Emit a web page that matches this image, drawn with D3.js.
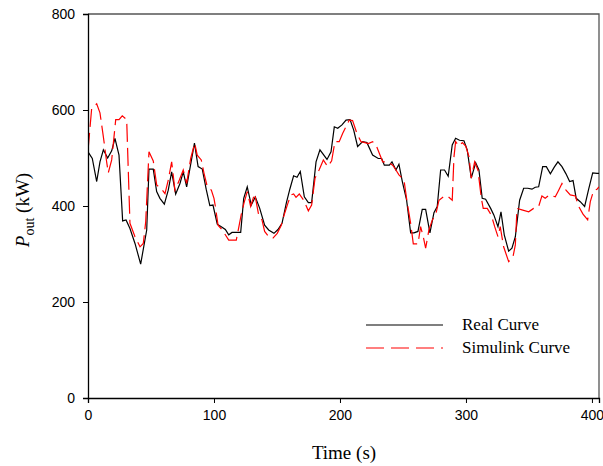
<!DOCTYPE html>
<html lang="en">
<head>
<meta charset="UTF-8">
<title>Pout</title>
<script src="https://cdn.jsdelivr.net/npm/d3@7"></script>
<style>
  body { margin: 0; background: #fff; }
  svg { display: block; }
  .tick text { font-family: 'Liberation Sans', Arial, sans-serif; font-size: 14px; fill: #000; }
  .serif { font-family: 'Liberation Serif', 'Times New Roman', serif; fill: #000; }
</style>
</head>
<body>
<div id="chart"></div>
<script>
// real curve
const realT = [0, 3.4, 6.9, 9.5, 12.2, 15.6, 18.8, 21.4, 24.6, 27.5,
  30.2, 33.3, 37.3, 41.8, 46.6, 48.4, 51.8, 54.5, 57.1, 60.6,
  63.7, 66.4, 69.6, 73, 75.6, 78.3, 84.5, 87.4, 90.7, 93.8,
  96.7, 99.2, 102.6, 105.8, 109, 111.7, 114.3, 121.2, 123.6, 126.4,
  129.6, 132.8, 136.3, 140.2, 143.4, 147.6, 150.8, 154, 157.4, 160.3,
  163.2, 165.9, 168.5, 171.7, 174.9, 177.5, 181, 184.1, 189.7, 192.9,
  195.5, 198.2, 201.6, 204.8, 208, 210.9, 214, 218, 221.4, 225.9,
  230.4, 233.1, 235.2, 239.2, 241.3, 244.4, 246.8, 249.5, 252.9, 256.1,
  258.7, 261.9, 265.3, 268, 271.4, 274.6, 277.2, 279.9, 283, 285.9,
  289.1, 291.8, 294.9, 298.4, 301, 304.2, 307.7, 310.3, 312.9, 315.6,
  319.6, 322.2, 325.4, 327.8, 330.4, 333.9, 336.5, 339.2, 342.6, 345.8,
  349, 352.4, 355, 357.7, 360.9, 363.8, 367, 370.1, 373, 376.2,
  379.4, 382.3, 385, 387.5, 390.7, 394.2, 397.4, 400.6, 404, 405.6]
const realP = [513, 499, 451, 492, 517, 500, 515, 541, 506, 369,
  371, 353, 322, 279, 350, 477, 477, 430, 416, 404,
  433, 471, 425, 447, 471, 440, 531, 482, 477, 435,
  401, 402, 362, 357, 351, 340, 345, 345, 416, 440,
  402, 419, 395, 360, 350, 343, 351, 364, 406, 436,
  463, 460, 472, 419, 407, 407, 492, 517, 497, 513,
  565, 562, 569, 579, 580, 558, 524, 534, 532, 506,
  499, 499, 485, 485, 492, 475, 487, 451, 412, 344,
  344, 347, 393, 393, 344, 386, 399, 475, 475, 462,
  527, 541, 537, 536, 517, 458, 490, 475, 416, 414,
  395, 381, 357, 388, 340, 306, 312, 336, 412, 437,
  437, 435, 439, 440, 482, 482, 467, 481, 492, 482,
  467, 451, 453, 416, 409, 399, 435, 469, 468, 468]

// simulink curve
const simT = [0, 2.9, 6.9, 9.5, 12.2, 14.8, 16.1, 18.8, 22, 24.6,
  27.2, 30.7, 33.3, 37.3, 41.3, 43.9, 45.8, 48.4, 51.8, 54.5,
  58.5, 61.1, 63.7, 66.4, 69, 72.5, 75.6, 78.3, 81.5, 84.7,
  86.7, 89.9, 92.1, 94.7, 97.9, 100, 101.1, 103.2, 106.3, 109,
  111.7, 117.7, 121.7, 123.8, 126.4, 129.1, 132.3, 135.5, 138.1, 140.2,
  143.4, 146.8, 150.2, 153.4, 156.1, 158.7, 161.1, 163.2, 165.1, 167.7,
  171.2, 174.9, 177.5, 180.2, 183.6, 186.8, 190.2, 193.4, 196, 199.4,
  202.1, 207.4, 210, 213.5, 216.7, 219.8, 222.5, 225.9, 228.6, 231.2,
  233.9, 237.9, 241.8, 244.4, 246.8, 250.8, 253.4, 256.1, 258.2, 261.9,
  264, 266.1, 268, 270.6, 273.3, 275.9, 278.6, 282, 285.2, 289.1,
  290.5, 291.8, 294.4, 297.1, 299.8, 302.4, 304.2, 306.9, 309.5, 312.2,
  313.7, 316.9, 320.1, 322.8, 325.4, 327.2, 329.9, 333.9, 337.3, 339.2,
  340.5, 344.4, 349.8, 353.7, 357.7, 360.3, 362.9, 366.1, 370.9, 373.6,
  376.2, 379.4, 382.8, 386.8, 389.5, 392.9, 396.6, 398.7, 401.3, 404, 405.6]
const simP = [515, 603, 613, 594, 544, 492, 469, 496, 580, 580,
  588, 580, 364, 336, 315, 322, 367, 513, 494, 444,
  435, 426, 454, 492, 433, 454, 475, 447, 499, 531,
  506, 496, 468, 440, 433, 416, 399, 360, 351, 340,
  329, 329, 383, 406, 430, 399, 426, 381, 371, 347,
  336, 333, 343, 360, 385, 406, 423, 425, 418, 425,
  412, 390, 402, 458, 476, 496, 482, 494, 534, 534,
  551, 579, 578, 551, 534, 532, 530, 534, 527, 510,
  492, 492, 485, 475, 465, 454, 406, 364, 321, 321,
  357, 336, 312, 350, 371, 381, 412, 419, 421, 412,
  503, 534, 525, 532, 525, 503, 458, 492, 475, 416,
  395, 395, 381, 357, 336, 357, 315, 284, 294, 319,
  395, 392, 388, 395, 399, 421, 416, 423, 419, 433,
  447, 433, 423, 421, 399, 383, 371, 409, 432, 435, 440]

const xTicks = [0, 100, 200, 300, 400]
const yTicks = [0, 200, 400, 600, 800]
const legendNames = ["Real Curve", "Simulink Curve"]

const width = 603, height = 466
const mLeft = 88, mRight = 599, mTop = 14, mBottom = 398

const svg = d3.select("#chart").append("svg")
  .attr("width", width)
  .attr("height", height)

const x = d3.scaleLinear().domain([0, 405.6]).range([mLeft, mRight])
const y = d3.scaleLinear().domain([0, 800]).range([mBottom, mTop])

// frame (top + right)
svg.append("path")
  .attr("d", `M${mLeft},${mTop}H${mRight}V${mBottom}`)
  .attr("fill", "none")
  .attr("stroke", "#555")
  .attr("stroke-width", 1.3)

svg.append("clipPath").attr("id", "clip")
  .append("rect")
  .attr("x", mLeft).attr("y", mTop)
  .attr("width", mRight - mLeft).attr("height", mBottom - mTop)

const plot = svg.append("g").attr("clip-path", "url(#clip)")

const line = d3.line()
  .x(d => x(d[0]))
  .y(d => y(d[1]))

plot.append("path")
  .datum(realT.map((t, i) => [t, realP[i]]))
  .attr("d", line)
  .attr("fill", "none")
  .attr("stroke", "#000")
  .attr("stroke-width", 1.2)

plot.append("path")
  .datum(simT.map((t, i) => [t, simP[i]]))
  .attr("d", line)
  .attr("fill", "none")
  .attr("stroke", "#ff0000")
  .attr("stroke-width", 1.2)
  .attr("stroke-dasharray", "18,6")

// axes
svg.append("g")
  .attr("transform", `translate(0,${mBottom})`)
  .call(d3.axisBottom(x).tickValues(xTicks).tickSize(5).tickPadding(7).tickFormat(d3.format("d")))
svg.append("g")
  .attr("transform", `translate(${mLeft},0)`)
  .call(d3.axisLeft(y).tickValues(yTicks).tickSize(5).tickPadding(8).tickFormat(d3.format("d")))

svg.selectAll(".domain").attr("stroke", "#000").attr("stroke-width", 1.3)
svg.selectAll(".tick line").attr("stroke", "#000")

// axis titles
svg.append("text")
  .attr("class", "serif")
  .attr("x", 344)
  .attr("y", 459)
  .attr("text-anchor", "middle")
  .style("font-size", "19px")
  .text("Time (s)")

const yl = svg.append("text")
  .attr("class", "serif")
  .attr("transform", "translate(29,210) rotate(-90)")
  .attr("text-anchor", "middle")
  .style("font-size", "19px")
yl.append("tspan").style("font-style", "italic").text("P")
yl.append("tspan").attr("dy", 5).style("font-size", "14px").text("out")
yl.append("tspan").attr("dy", -5).text(" (kW)")

// legend
const lg = svg.append("g")
legendNames.forEach((name, i) => {
  const ly = 325 + i * 23
  lg.append("line")
    .attr("x1", 366).attr("x2", 443)
    .attr("y1", ly).attr("y2", ly)
    .attr("stroke", i === 0 ? "#000" : "#ff0000")
    .attr("stroke-width", 1.2)
    .attr("stroke-dasharray", i === 0 ? null : "18,7")
  lg.append("text")
    .attr("class", "serif")
    .attr("x", 462)
    .attr("y", ly + 5)
    .style("font-size", "17px")
    .text(name)
})
</script>
</body>
</html>
